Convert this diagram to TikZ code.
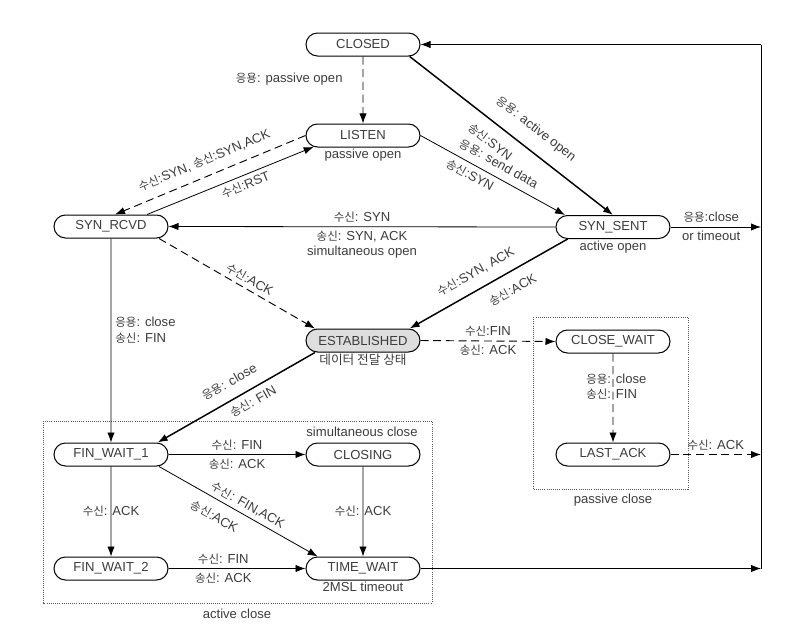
\documentclass[tikz,border=0pt]{standalone}
\usepackage{fontspec}
\setmainfont{Liberation Sans}
\newfontfamily\kr[Scale=0.88]{Noto Sans CJK KR}
\usetikzlibrary{arrows.meta,shapes.misc}
\newcommand{\kk}[1]{{\kr #1}}
\definecolor{txt}{RGB}{60,60,60}
\definecolor{boxgray}{RGB}{90,90,90}
\definecolor{estfill}{RGB}{222,222,222}
\begin{document}
\begin{tikzpicture}[x=0.75pt, y=-0.75pt, font=\fontsize{9.8}{11.5}\selectfont,
  st/.style={draw, rounded rectangle, minimum width=85.5pt, minimum height=17.25pt, inner sep=0pt, line width=0.75pt, text=txt},
  lbl/.style={text=txt, inner sep=3pt},
  tip/.style={-{Latex[length=7.5pt,width=5.5pt]}},
  ln/.style={line width=0.6pt, tip},
  lnk/.style={line width=1.1pt, tip},
  dsh/.style={line width=0.7pt, dash pattern=on 6pt off 3.5pt, tip},
  grpbox/.style={draw=boxgray, densely dotted, line width=0.6pt}]
\useasboundingbox (0,0) rectangle (811,639);

% group boxes
\draw[grpbox] (533,317) rectangle (688,489);
\node[lbl] (pcl) at (613,500) {passive close};
\draw[grpbox] (43,421) rectangle (432,603);
\node[lbl] (acl) at (237,614) {active close};
\node[lbl] (scl) at (362,432) {simultaneous close};

% states
\node[st] (CLOSED) at (363,44.5) {CLOSED};
\node[st, label={[lbl,inner sep=1pt]below:passive open}] (LISTEN) at (363,135.5) {LISTEN};
\node[st] (SYN_RCVD) at (111,226.5) {SYN\_RCVD};
\node[st, label={[lbl,inner sep=1pt]below:active open}] (SYN_SENT) at (613,227) {SYN\_SENT};
\node[st, fill=estfill, label={[lbl,inner sep=1pt]below:{\kr\fontsize{10.8}{12}\selectfont 데이터 전달 상태}}] (ESTABLISHED) at (363,340.5) {ESTABLISHED};
\node[st] (CLOSE_WAIT) at (613,341.5) {CLOSE\_WAIT};
\node[st] (LAST_ACK) at (613,454.5) {LAST\_ACK};
\node[st] (FIN_WAIT_1) at (111,454.5) {FIN\_WAIT\_1};
\node[st] (CLOSING) at (363,454.5) {CLOSING};
\node[st] (FIN_WAIT_2) at (111,568.5) {FIN\_WAIT\_2};
\node[st, label={[lbl,inner sep=1pt]below:2MSL timeout}] (TIME_WAIT) at (363,568.5) {TIME\_WAIT};

\coordinate (r1) at (761,44.5);
\coordinate (r2) at (761,227);
\coordinate (r3) at (761,454.5);
\coordinate (r4) at (761,568.5);

% edges
\draw[dsh] (CLOSED) -- (LISTEN) node[lbl, pos=0.34, left, xshift=-12pt] {\kk{응용}: passive open};
\draw[lnk] ([xshift=35pt]CLOSED.south) -- (SYN_SENT.north)
  node[lbl, pos=0.56, sloped, above=7pt] {\kk{응용}: active open}
  node[lbl, pos=0.45, sloped, below=6pt] {\kk{송신}:SYN};
\draw[ln] (LISTEN.east) -- ([xshift=-36pt]SYN_SENT.north)
  node[lbl, pos=0.5, sloped, above=2.5pt] {\kk{응용}: send data}
  node[lbl, pos=0.38, sloped, below=1pt] {\kk{송신}:SYN};
\draw[dsh] (LISTEN.west) -- ([xshift=3pt]SYN_RCVD.north)
  node[lbl, pos=0.5, sloped, above=4pt] {\kk{수신}:SYN, \kk{송신}:SYN,ACK};
\draw[ln] ([xshift=27pt]SYN_RCVD.north) -- (LISTEN.193)
  node[lbl, pos=0.57, sloped, below] {\kk{수신}:RST};
\draw[ln] (SYN_SENT.west) -- (SYN_RCVD.east)
  node[lbl, midway, above] {\kk{수신}: SYN}
  node[lbl, midway, below, align=center] {\kk{송신}: SYN, ACK\\simultaneous open};
\draw[dsh] ([xshift=36pt]SYN_RCVD.south) -- ([xshift=-36pt]ESTABLISHED.north)
  node[lbl, pos=0.55, sloped, above] {\kk{수신}:ACK};
\draw[lnk] ([xshift=-34pt]SYN_SENT.south) -- ([xshift=35pt]ESTABLISHED.north)
  node[lbl, pos=0.53, sloped, above=4.5pt] {\kk{수신}:SYN, ACK}
  node[lbl, pos=0.4, sloped, below=5.5pt] {\kk{송신}:ACK};
\draw[dsh] (ESTABLISHED.east) -- (CLOSE_WAIT.west)
  node[lbl, midway, above] {\kk{수신}:FIN}
  node[lbl, midway, below] {\kk{송신}: ACK};
\draw[lnk] ([xshift=-36pt]ESTABLISHED.south) -- ([xshift=35pt]FIN_WAIT_1.north)
  node[lbl, pos=0.49, sloped, above=5pt] {\kk{응용}: close}
  node[lbl, pos=0.43, sloped, below=1.5pt] {\kk{송신}: FIN};
\draw[ln] (SYN_RCVD) -- (FIN_WAIT_1)
  node[lbl, pos=0.45, right, align=left] {\kk{응용}: close\\\kk{송신}: FIN};
\draw[dsh] (CLOSE_WAIT) -- (LAST_ACK)
  node[lbl, pos=0.37, xshift=2.5pt, align=left] {\kk{응용}: close\\\kk{송신}: FIN};
\draw[dsh] (LAST_ACK.east) -- (r3) node[lbl, midway, above] {\kk{수신}: ACK};
\draw[ln] (FIN_WAIT_1) -- (CLOSING)
  node[lbl, midway, above] {\kk{수신}: FIN}
  node[lbl, midway, below] {\kk{송신}: ACK};
\draw[ln] ([xshift=36pt]FIN_WAIT_1.south) -- ([xshift=-34pt]TIME_WAIT.north)
  node[lbl, pos=0.53, sloped, above] {\kk{수신}: FIN,ACK}
  node[lbl, pos=0.4, sloped, below=5pt] {\kk{송신}:ACK};
\draw[ln] (FIN_WAIT_1) -- (FIN_WAIT_2) node[lbl, midway] {\kk{수신}: ACK};
\draw[ln] (CLOSING) -- (TIME_WAIT) node[lbl, midway] {\kk{수신}: ACK};
\draw[ln] (FIN_WAIT_2) -- (TIME_WAIT)
  node[lbl, pos=0.4, above] {\kk{수신}: FIN}
  node[lbl, pos=0.4, below] {\kk{송신}: ACK};
\draw[ln] (TIME_WAIT.east) -- (r4);
\draw[ln] (SYN_SENT.east) -- (r2)
  node[lbl, pos=0.45, above] {\kk{응용}:close}
  node[lbl, pos=0.45, below] {or timeout};
\draw[line width=0.6pt] (r4) -- (r1);
\draw[ln] (r1) -- (CLOSED.east);
\end{tikzpicture}
\end{document}
